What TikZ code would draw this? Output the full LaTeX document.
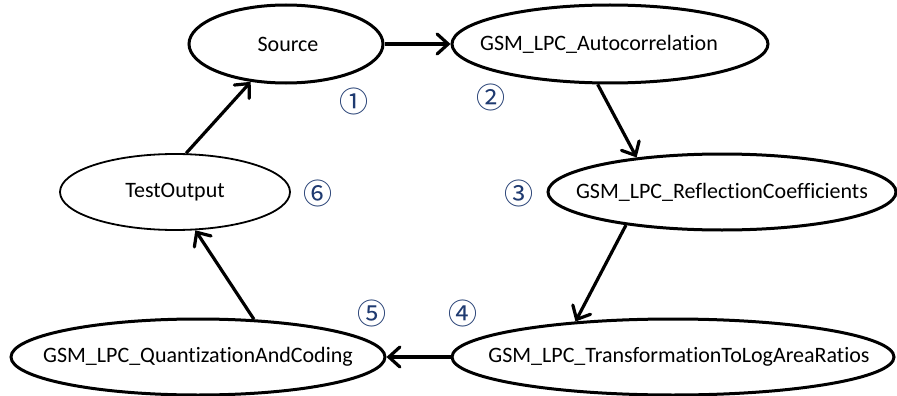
\documentclass[tikz,border=0pt]{standalone}
\usepackage{fontspec}
\setmainfont{Carlito}[Ligatures=NoCommon]
\newfontfamily\circfont{Noto Sans CJK SC}
\usetikzlibrary{shapes.geometric,arrows.meta}
\definecolor{navy}{HTML}{1F3A70}
\newcommand{\zw}[1]{\makebox[0pt]{#1}}
\tikzset{
  proc/.style={ellipse, draw=black, line width=3pt, inner sep=0pt, font=\fontsize{22}{26}\selectfont},
  thinproc/.style={proc, line width=1.8pt},
  flow/.style={line width=3.2pt, -{Straight Barb[length=11pt,width=20pt,line cap=round]}},
  num/.style={text=navy, inner sep=0pt, font=\circfont\fontsize{29}{31}\selectfont}
}
\begin{document}
\begin{tikzpicture}[x=1pt,y=-1pt]
\useasboundingbox (0,0) rectangle (897,396);
\node[proc, minimum width=194pt, minimum height=78pt] (src) at (286,44) {\zw{\kern2pt Source\kern-2pt}};
\node[proc, minimum width=316pt, minimum height=78pt] (auto) at (610,44) {\zw{\kern-11pt GSM\_LPC\_Autocorrelation\kern11pt}};
\node[proc, minimum width=348pt, minimum height=76pt] (refl) at (722,192) {\zw{GSM\_LPC\_ReflectionCoefficients}};
\node[proc, minimum width=442pt, minimum height=76pt] (trans) at (673,357) {\zw{\kern6pt GSM\_LPC\_TransformationToLogAreaRatios\kern-6pt}};
\node[proc, minimum width=374pt, minimum height=76pt] (quant) at (198,357) {\zw{GSM\_LPC\_QuantizationAndCoding}};
\node[thinproc, minimum width=230pt, minimum height=76pt] (test) at (175,192) {\zw{TestOutput}};

\draw[flow] (src.east) -- (auto.west);
\draw[flow] (auto.-107.85) -- (refl.158.5);
\draw[flow] (refl.199.3) -- (trans.160.8);
\draw[flow] (trans.west) -- (quant.east);
\draw[flow] (quant.34.5) -- (test.-62.4);
\draw[flow] (test.74.1) -- (src.-133.7);

\node[num] (n1) at (353.5,101) {①};
\node[num] (n2) at (491,97) {②};
\node[num] (n3) at (519,193) {③};
\node[num] (n4) at (463,313) {④};
\node[num] (n5) at (372,313) {⑤};
\node[num] (n6) at (318,193) {⑥};
\end{tikzpicture}
\end{document}
